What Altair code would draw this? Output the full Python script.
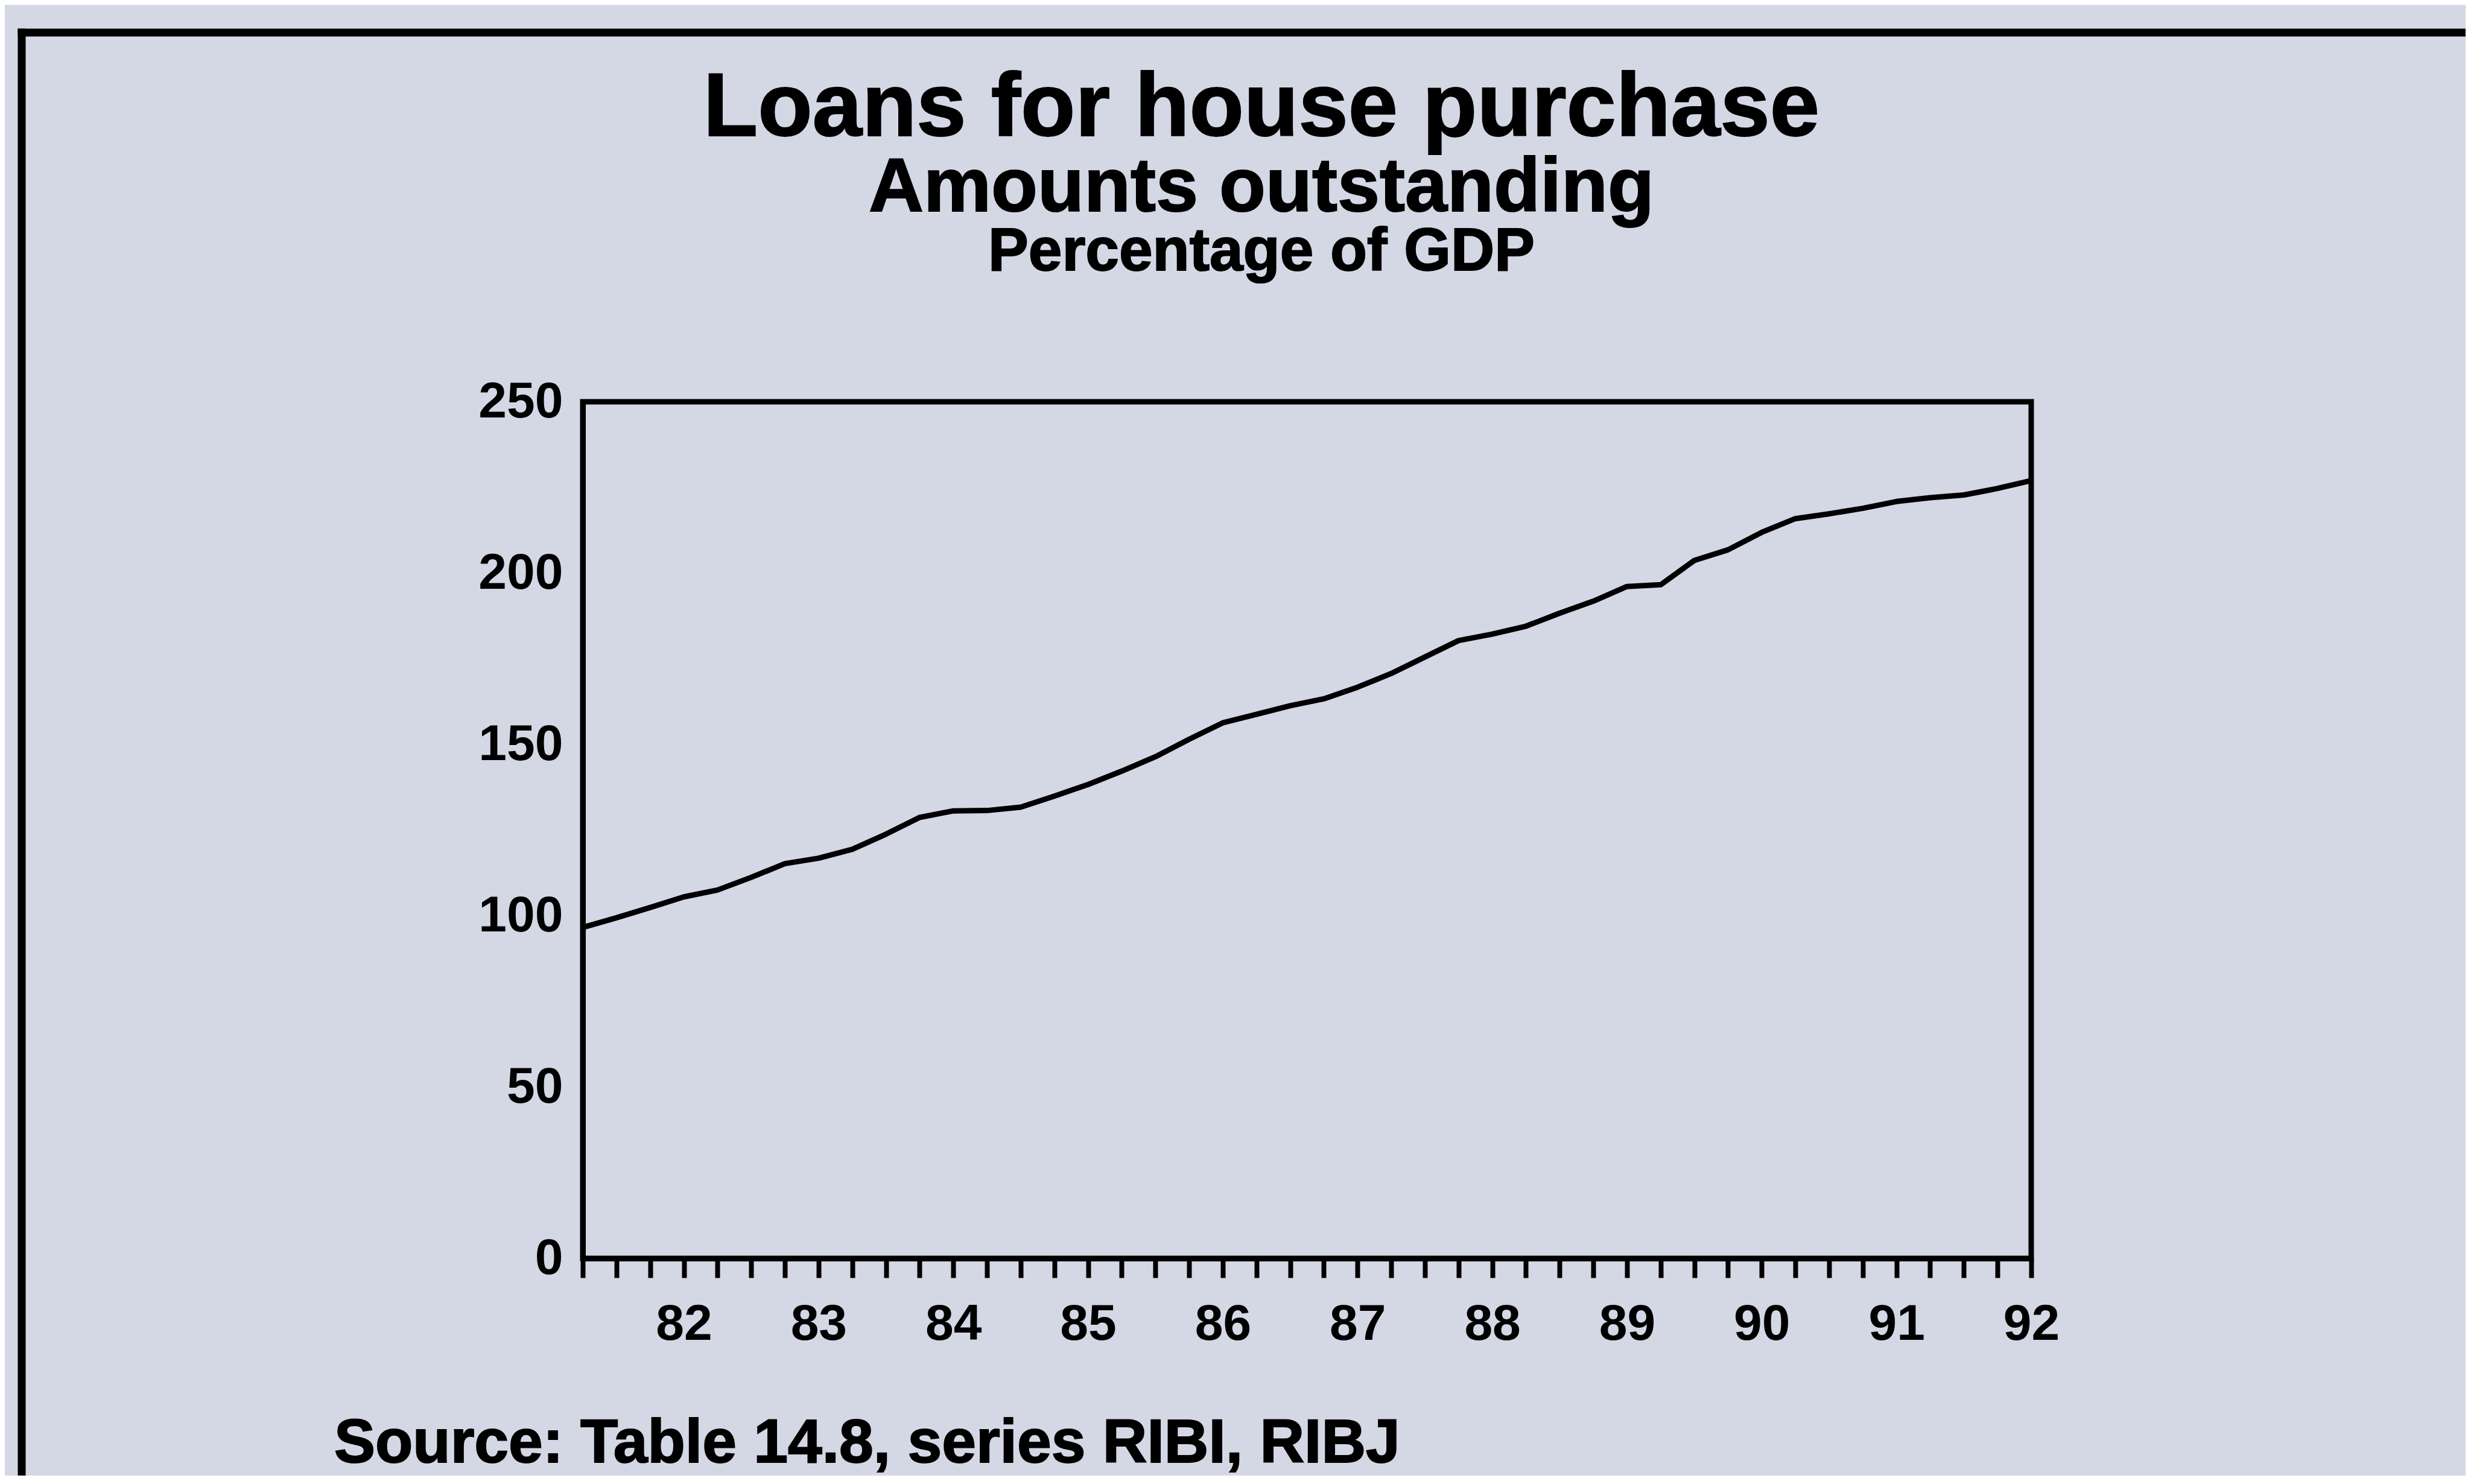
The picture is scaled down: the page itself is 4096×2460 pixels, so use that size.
import altair as alt
import pandas as pd

# ---- text ----
title_line1 = "Loans for house purchase"
title_line2 = "Amounts outstanding"
title_line3 = "Percentage of GDP"
source_note = "Source: Table 14.8, series RIBI, RIBJ"

# ---- data: quarterly, end-quarter positions (year + quarter/4) ----
q_year = [81, 81, 81, 81, 82, 82, 82, 82, 83, 83, 83, 83,
          84, 84, 84, 84, 85, 85, 85, 85, 86, 86, 86, 86,
          87, 87, 87, 87, 88, 88, 88, 88, 89, 89, 89, 89,
          90, 90, 90, 90, 91, 91, 91, 91]
q_num = [1, 2, 3, 4] * 11
loans_pct_gdp = [96.6, 99.4, 102.4, 105.5, 107.5, 111.2, 115.2, 116.8,
                 119.4, 123.8, 128.7, 130.6, 130.7, 131.7, 134.9, 138.3,
                 142.2, 146.4, 151.5, 156.3, 158.8, 161.3, 163.3, 166.7,
                 170.7, 175.5, 180.3, 182.2, 184.5, 188.3, 191.8, 196.1,
                 196.6, 203.7, 206.8, 211.9, 215.9, 217.3, 218.9, 220.9,
                 222.0, 222.8, 224.7, 227.0]
year_labels = [82, 83, 84, 85, 86, 87, 88, 89, 90, 91, 92]
y_ticks = [0, 50, 100, 150, 200, 250]

positions = [y + q / 4 for y, q in zip(q_year, q_num)]
df = pd.DataFrame({"t": positions, "v": loans_pct_gdp})

FONT = "Liberation Sans"
BG = "#d4d7e4"
W, H = 2401, 1420

label_expr = ("indexof([" + ",".join(str(v) for v in year_labels)
              + "], datum.value) >= 0 ? '' + datum.value : ''")

line = alt.Chart(df).mark_line(color="black", strokeWidth=9, strokeJoin="round").encode(
    x=alt.X("t:Q",
            scale=alt.Scale(domain=[positions[0], positions[-1]], nice=False, zero=False),
            axis=alt.Axis(values=positions, labelExpr=label_expr, title=None, grid=False,
                          domainColor="black", domainWidth=9,
                          tickColor="black", tickWidth=8, tickSize=32,
                          labelFont=FONT, labelFontWeight="bold", labelFontSize=84,
                          labelColor="black", labelPadding=36, labelBaseline="top",
                          labelOverlap=False, labelFlush=False)),
    y=alt.Y("v:Q",
            scale=alt.Scale(domain=[0, 250], nice=False, zero=True),
            axis=alt.Axis(values=y_ticks, title=None, grid=False, ticks=False,
                          domainColor="black", domainWidth=9,
                          labelFont=FONT, labelFontWeight="bold", labelFontSize=84,
                          labelColor="black", labelPadding=33,
                          labelOverlap=False, labelFlush=False)),
)


def text_layer(txt, size, x, y, align="center"):
    return alt.Chart(pd.DataFrame({"s": [txt]})).mark_text(
        font=FONT, fontWeight="bold", fontSize=size, color="black",
        stroke="black", strokeWidth=2,
        align=align, baseline="alphabetic"
    ).encode(text="s:N", x=alt.value(x), y=alt.value(y))


t1 = text_layer(title_line1, 148, 1125, -441)
t2 = text_layer(title_line2, 126, 1125, -316)
t3 = text_layer(title_line3, 100, 1125, -218)
src = text_layer(source_note, 102, -412, 1758, align="left")

frame_df = pd.DataFrame({"k": [0]})
top_border = alt.Chart(frame_df).mark_rule(color="black", strokeWidth=13, strokeCap="square").encode(
    x=alt.value(-930), x2=alt.value(3300), y=alt.value(-612))
left_border = alt.Chart(frame_df).mark_rule(color="black", strokeWidth=13, strokeCap="square").encode(
    x=alt.value(-930), y=alt.value(-612), y2=alt.value(1900))

chart = alt.layer(line, t1, t2, t3, src, top_border, left_border).properties(
    width=W, height=H,
    autosize=alt.AutoSizeParams(type="none"),
    padding={"left": 958, "top": 658, "right": 720, "bottom": 360},
).configure(background=BG).configure_view(stroke="black", strokeWidth=9)

chart.save("out.html", embed_options={"renderer": "svg", "actions": False})
